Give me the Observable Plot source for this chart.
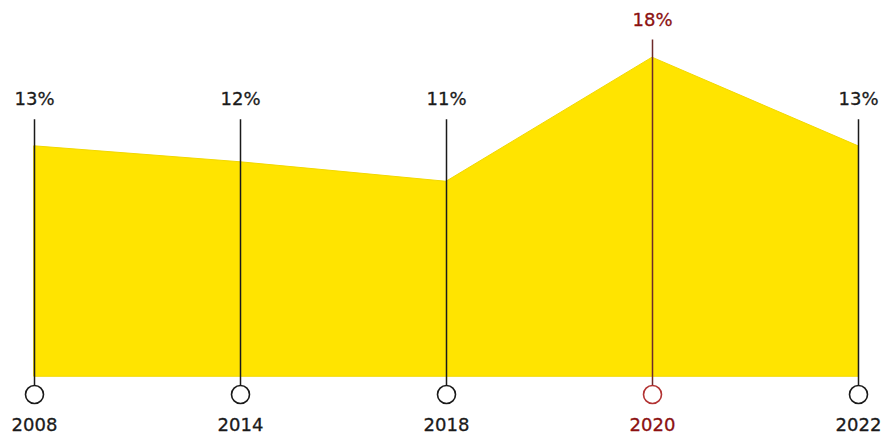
<!DOCTYPE html>
<html>
<head>
<meta charset="utf-8">
<script src="https://cdn.jsdelivr.net/npm/d3@7"></script>
<script src="https://cdn.jsdelivr.net/npm/@observablehq/plot@0.6"></script>
<style>
  html, body { margin: 0; padding: 0; background: #fff; }
  #chart svg { display: block; }
</style>
</head>
<body>
<div id="chart"></div>
<script>
const years = ["2008", "2014", "2018", "2020", "2022"];
const values = [13.0, 12.1, 11.0, 18.0, 13.0];
const labels = ["13%", "12%", "11%", "18%", "13%"];

const maxVal = d3.max(values);
const LABEL_LEVEL = 14.5;   // common height for ordinary labels (data units)
const BASE = -1;            // where the circles sit (data units)

const data = years.map((year, i) => ({
  year,
  value: values[i],
  label: labels[i],
  hi: values[i] === maxVal,
  top: values[i] === maxVal ? maxVal + 1 : LABEL_LEVEL
}));

const dark = "#1a1a1a";
const hiLine = "#6e2a2a";
const hiCircle = "#b23232";
const hiText = "#8b1010";

const chart = Plot.plot({
  width: 881,
  height: 434,
  marginTop: 4,
  marginBottom: 40,
  marginLeft: 33,
  marginRight: 22,
  style: { fontFamily: "DejaVu Sans", background: "#fff" },
  x: { type: "point", domain: years, padding: 0, axis: null },
  y: { domain: [BASE, 21], axis: null },
  marks: [
    Plot.areaY(data, { x: "year", y1: 0, y2: "value", fill: "#FFE400", stroke: "#F2D800", strokeWidth: 1 }),
    Plot.ruleX(data, { x: "year", y1: BASE, y2: "top", stroke: d => d.hi ? hiLine : dark, strokeWidth: 1.5 }),
    Plot.dot(data, { x: "year", y: () => BASE, r: 9, fill: "#fff", stroke: d => d.hi ? hiCircle : dark, strokeWidth: 1.6 }),
    Plot.text(data, { x: "year", y: "top", text: "label", dy: -20, lineAnchor: "middle", fontSize: 18, fill: d => d.hi ? hiText : dark, stroke: d => d.hi ? hiText : dark, strokeWidth: 0.3 }),
    Plot.text(data, { x: "year", y: () => BASE, text: "year", dy: 31, lineAnchor: "middle", fontSize: 18, fill: d => d.hi ? hiText : dark, stroke: d => d.hi ? hiText : dark, strokeWidth: 0.3 })
  ]
});
document.getElementById("chart").appendChild(chart);
</script>
</body>
</html>
